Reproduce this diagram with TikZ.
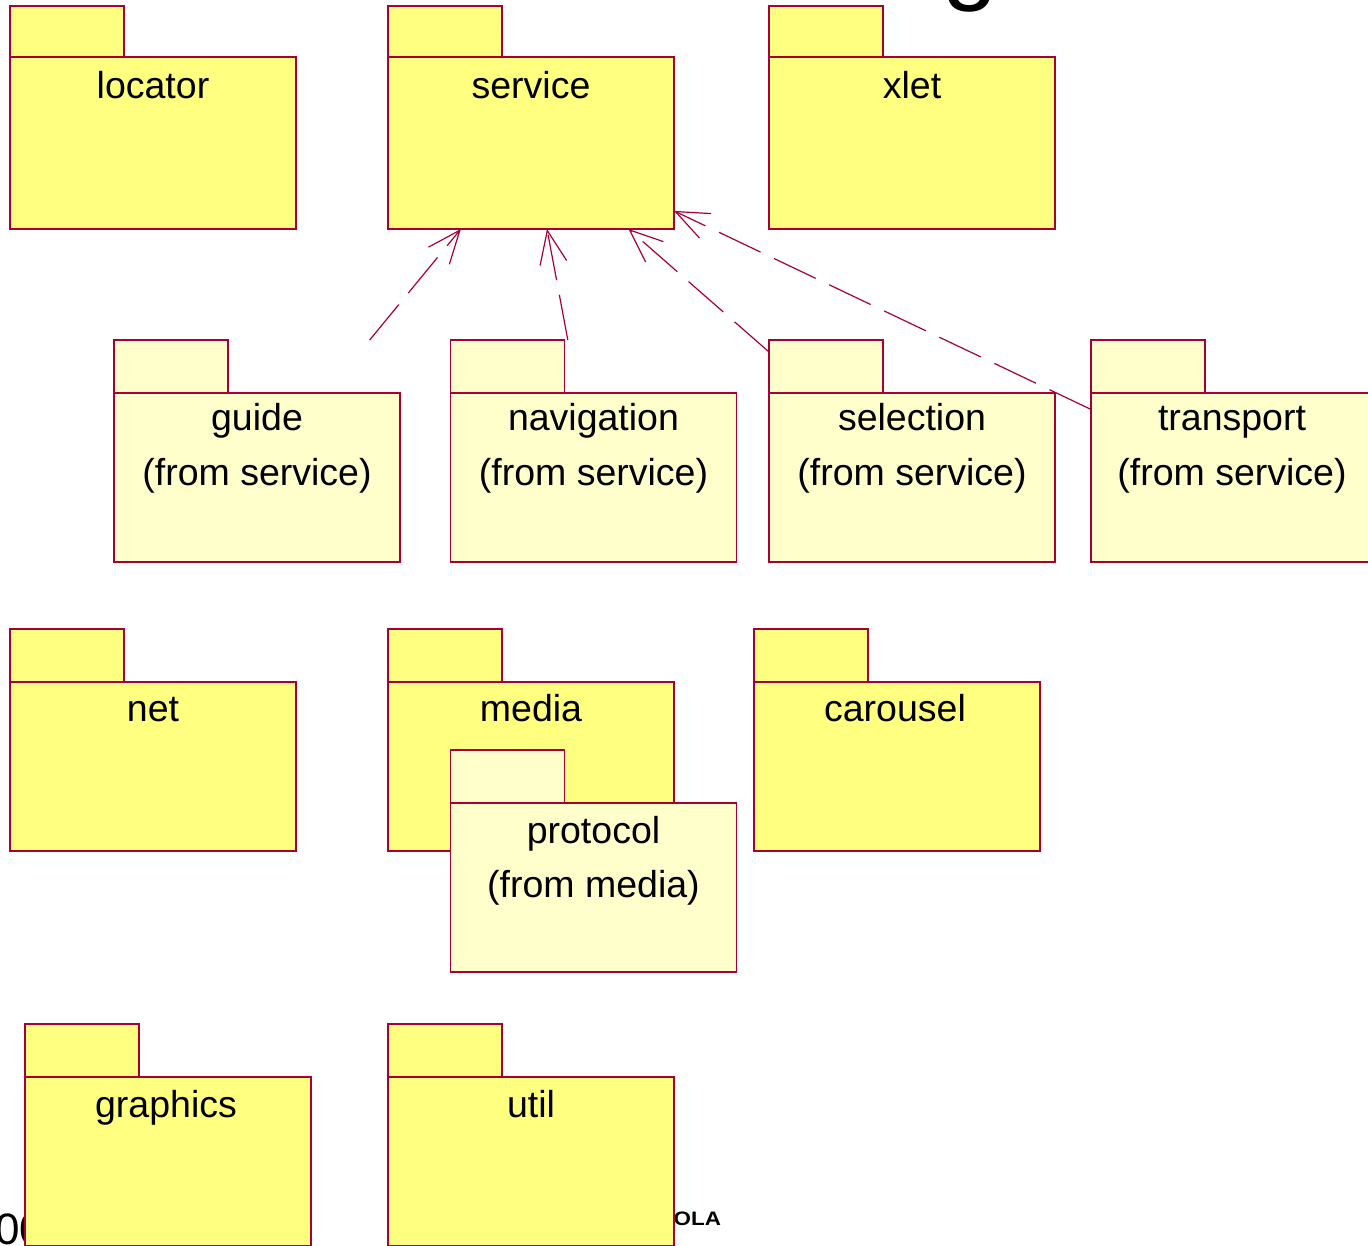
\documentclass[tikz,border=0pt]{standalone}
\usepackage{fontspec}
\setmainfont{Liberation Sans}
\usepackage{tikz}
\usetikzlibrary{arrows.meta}
\definecolor{PkgYellow}{RGB}{255,255,128}
\definecolor{PkgLight}{RGB}{255,255,204}
\definecolor{PkgRed}{RGB}{168,0,54}

\begin{document}
\begin{tikzpicture}[x=1pt, y=-1pt]
	\tikzstyle{every node}=[inner sep=0pt, outer sep=0pt];
	\tikzstyle{pkg}=[draw=PkgRed, line width=1.2pt, fill=PkgYellow, minimum width=286pt, minimum height=169pt];
	\tikzstyle{pkgtab}=[draw=PkgRed, line width=1.2pt, fill=PkgYellow, minimum width=114pt, minimum height=53pt, anchor=south west];
	\tikzstyle{lbl}=[anchor=base, font=\fontsize{37.5}{45}\selectfont];
	\tikzstyle{dep}=[draw=PkgRed, line width=1.2pt, dash pattern=on 46pt off 15pt, -{Straight Barb[length=33pt, width=27pt]}];
	\useasboundingbox (0,0) rectangle (1368,1245);
	\clip (0,0) rectangle (1368,1245);
	% bits of the slide around the diagram
	\node [anchor=base west, font=\fontsize{100}{100}\selectfont] (title) at (942,-9) {g};
	\node [anchor=base west, font=\fontsize{44}{44}\selectfont] (year) at (-5,1244) {00};
	\node [anchor=base east, font=\bfseries\fontsize{19.5}{20}\selectfont] (logo) at (721,1225) {\scalebox{1.15}[1]{OLA}};
	% top row
	\node [pkg, minimum height=172pt] (locator) at (153,143) {};
	\node [pkgtab, minimum height=51pt] (locatortab) at (locator.north west) {};
	\node [lbl] (tlocator) at (153,98) {locator};
	\node [pkg, minimum height=172pt] (service) at (531,143) {};
	\node [pkgtab, minimum height=51pt] (servicetab) at (service.north west) {};
	\node [lbl] (tservice) at (531,98) {service};
	\node [pkg, minimum height=172pt] (xlet) at (912,143) {};
	\node [pkgtab, minimum height=51pt] (xlettab) at (xlet.north west) {};
	\node [lbl] (txlet) at (912,98) {xlet};
	% sub packages of service
	\node [pkg, fill=PkgLight] (guide) at (257,477.5) {};
	\node [pkgtab, fill=PkgLight] (guidetab) at (guide.north west) {};
	\node [lbl] (tguide) at (257,430) {guide};
	\node [lbl] (fguide) at (257,485) {(from service)};
	\node [pkg, fill=PkgLight] (navigation) at (593.5,477.5) {};
	\node [pkgtab, fill=PkgLight] (navigationtab) at (navigation.north west) {};
	\node [lbl] (tnavigation) at (593.5,430) {navigation};
	\node [lbl] (fnavigation) at (593.5,485) {(from service)};
	\node [pkg, fill=PkgLight] (selection) at (912,477.5) {};
	\node [pkgtab, fill=PkgLight] (selectiontab) at (selection.north west) {};
	\node [lbl] (tselection) at (912,430) {selection};
	\node [lbl] (fselection) at (912,485) {(from service)};
	\node [pkg, fill=PkgLight] (transport) at (1234,477.5) {};
	\node [pkgtab, fill=PkgLight] (transporttab) at (transport.north west) {};
	\node [lbl] (ttransport) at (1232,430) {transport};
	\node [lbl] (ftransport) at (1232,485) {(from service)};
	% third row
	\node [pkg] (net) at (153,766.5) {};
	\node [pkgtab] (nettab) at (net.north west) {};
	\node [lbl] (tnet) at (153,721) {net};
	\node [pkg] (media) at (531,766.5) {};
	\node [pkgtab] (mediatab) at (media.north west) {};
	\node [lbl] (tmedia) at (531,721) {media};
	\node [pkg] (carousel) at (897,766.5) {};
	\node [pkgtab] (carouseltab) at (carousel.north west) {};
	\node [lbl] (tcarousel) at (895,721) {carousel};
	\node [pkg, fill=PkgLight] (protocol) at (593.5,887.5) {};
	\node [pkgtab, fill=PkgLight] (protocoltab) at (protocol.north west) {};
	\node [lbl] (tprotocol) at (593.5,843) {protocol};
	\node [lbl] (fprotocol) at (593.5,897) {(from media)};
	% bottom row
	\node [pkg] (graphics) at (168,1161.5) {};
	\node [pkgtab] (graphicstab) at (graphics.north west) {};
	\node [lbl] (tgraphics) at (166,1117) {graphics};
	\node [pkg] (util) at (531,1161.5) {};
	\node [pkgtab] (utiltab) at (util.north west) {};
	\node [lbl] (tutil) at (531,1117) {util};
	% dependencies
	\draw [dep, shorten <=68.5pt] (guide) -- (service);
	\draw [dep, shorten <=53.9pt] (navigation) -- (service);
	\draw [dep, shorten <=62.1pt] (selection) -- (service);
	\draw [dep] (transport) -- (service);
\end{tikzpicture}
\end{document}
